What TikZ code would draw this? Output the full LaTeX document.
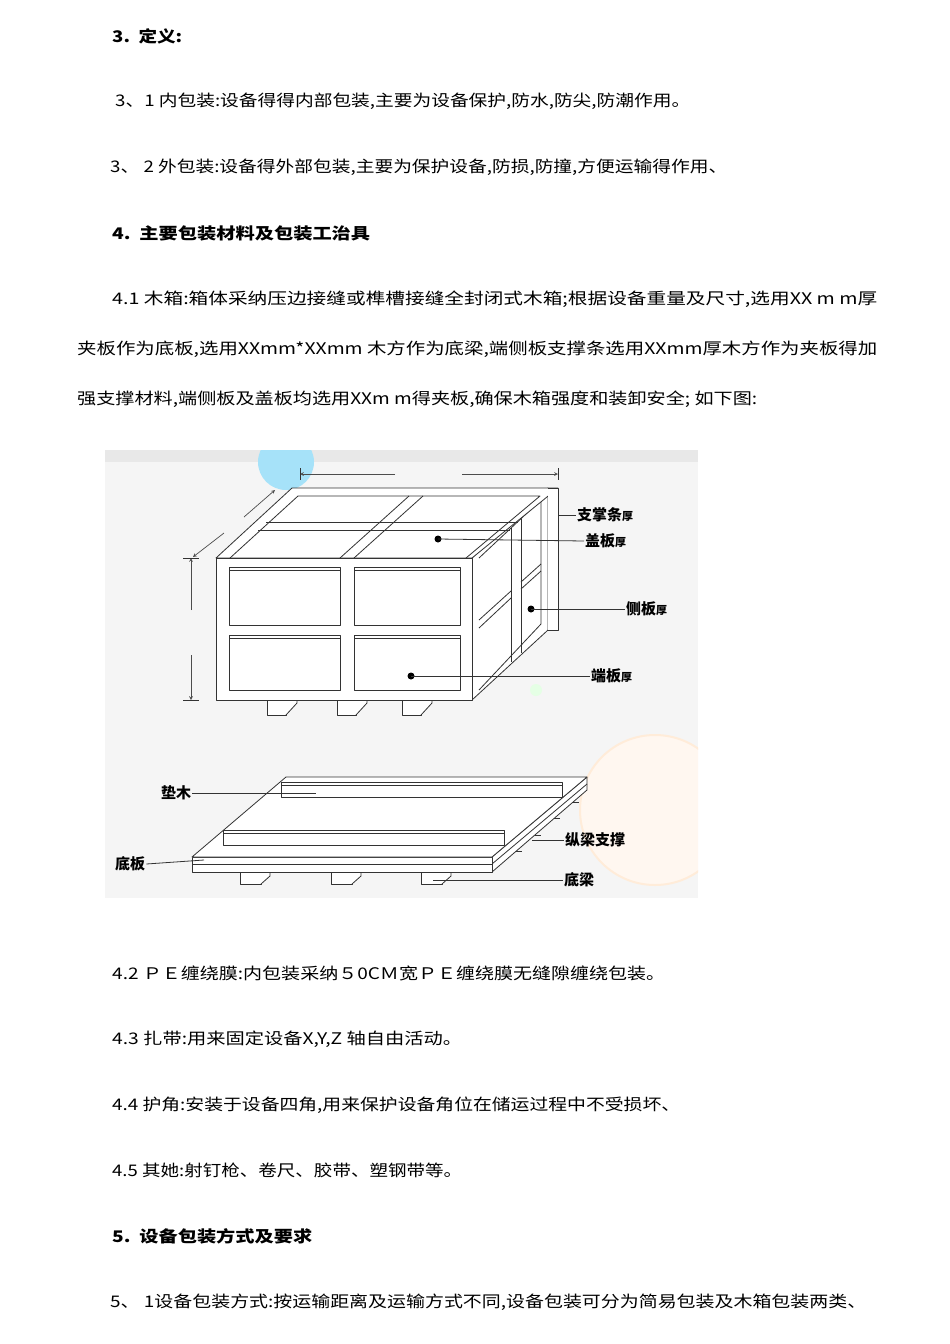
\documentclass[tikz,border=0pt]{standalone}
\usepackage{fontspec}
\usepackage{graphicx}
\usetikzlibrary{calc}
\setmainfont{Noto Sans CJK SC}
\newcommand{\fitw}[2]{\resizebox{#1pt}{\height}{#2}}
\newcommand{\sm}[1]{{\fontsize{11}{12}\selectfont #1}}
\begin{document}
\begin{tikzpicture}[x=1pt,y=-1pt,line join=round,
  txt/.style={anchor=west,inner sep=0pt,font=\fontsize{16}{18}\selectfont},
  hd/.style={anchor=west,inner sep=0pt,font=\fontsize{16}{18}\selectfont\bfseries},
  lbl/.style={anchor=west,inner sep=1pt,font=\fontsize{15}{17}\selectfont\bfseries},
  wood/.style={draw=black!80,fill=white,line width=0.8pt},
  lead/.style={draw=black!80,line width=0.8pt},
  dim/.style={draw=black!70,line width=0.7pt,->,>=stealth}]
\useasboundingbox (0,0) rectangle (950,1344);
\fill[white] (0,0) rectangle (950,1344);
% text
\node[hd] (h3) at (112,36) {\fitw{70}{3.\ \ 定义:}};
\node[txt] (t31) at (115,101) {\fitw{575}{3、1 内包装:设备得得内部包装,主要为设备保护,防水,防尖,防潮作用。}};
\node[txt] (t32) at (110,167) {\fitw{617}{3、 2 外包装:设备得外部包装,主要为保护设备,防损,防撞,方便运输得作用、}};
\node[hd] (h4) at (112,233) {\fitw{258}{4.\ \ 主要包装材料及包装工治具}};
\node[txt] (t41a) at (112,299) {\fitw{765}{4.1 木箱:箱体采纳压边接缝或榫槽接缝全封闭式木箱;根据设备重量及尺寸,选用XX m m厚}};
\node[txt] (t41b) at (77,349) {\fitw{800}{夹板作为底板,选用XXmm*XXmm 木方作为底梁,端侧板支撑条选用XXmm厚木方作为夹板得加}};
\node[txt] (t41c) at (77,399) {\fitw{680}{强支撑材料,端侧板及盖板均选用XXm m得夹板,确保木箱强度和装卸安全; 如下图:}};
\node[txt] (t42) at (112,973) {\fitw{553}{4.2 ＰＥ缠绕膜:内包装采纳５0CＭ宽ＰＥ缠绕膜无缝隙缠绕包装。}};
\node[txt] (t43) at (112,1039) {\fitw{350}{4.3 扎带:用来固定设备X,Y,Z 轴自由活动。}};
\node[txt] (t44) at (112,1105) {\fitw{568}{4.4 护角:安装于设备四角,用来保护设备角位在储运过程中不受损坏、}};
\node[txt] (t45) at (112,1170) {\fitw{350}{4.5 其她:射钉枪、卷尺、胶带、塑钢带等。}};
\node[hd] (h5) at (112,1236) {\fitw{200}{5.\ \ 设备包装方式及要求}};
\node[txt] (t51) at (110,1302) {\fitw{756}{5、 1设备包装方式:按运输距离及运输方式不同,设备包装可分为简易包装及木箱包装两类、}};
% figure background
\fill[black!4] (105,450) rectangle (698,898);
\fill[black!9] (105,450) rectangle (698,462);
\begin{scope}
\clip (105,450) rectangle (698,898);
\fill[cyan!35] (286,462) circle (28);
\fill[orange!6,draw=orange!15,line width=2pt] (655,810) circle (75);
\end{scope}
\draw[orange!15,line width=2pt] (413,595) circle (38);
\fill[green!10] (536,690) circle (6);
% feet
\foreach \x in {267,337,402}{\draw[wood] (\x,700) rectangle ++(19,15); \draw[wood] (\x+19,700)--(\x+30,690)--(\x+30,703)--(\x+19,715);}
% right side face
\draw[wood] (472,558)--(548,488)--(548,630)--(472,700)--cycle;
\draw[lead] (479,558)--(541,500)--(541,624)--(479,690);
\draw[lead] (511,528)--(511,662) (521,519)--(521,653);
\draw[lead] (479,620)--(511,591) (479,628)--(511,598) (521,582)--(541,564) (521,589)--(541,571);
% top face
\draw[wood] (216,558)--(292,488)--(558,488)--(472,558)--cycle;
\draw[lead] (230,558)--(298,496)--(540,496)--(466,558);
\draw[lead] (258,530)--(510,530) (266,522)--(518,522);
\draw[lead] (340,558)--(409,496) (354,558)--(423,496);
\draw[wood] (548,488)--(558,488)--(558,630)--(548,630);
% front face
\draw[wood] (216,558) rectangle (472,700);
\draw[lead] (229,567) rectangle (340,625) (354,567) rectangle (460,625);
\draw[lead] (229,635) rectangle (340,690) (354,635) rectangle (460,690);
\draw[lead] (229,570)--(340,570) (354,570)--(460,570) (229,638)--(340,638) (354,638)--(460,638);
% dimensions
\draw[dim] (395,474)--(300,474); \draw[dim] (462,474)--(558,474);
\draw[lead] (300,468)--(300,480) (558,468)--(558,480);
\draw[dim] (244,517)--(275,490); \draw[dim] (224,533)--(193,557);
\draw[dim] (191,610)--(191,558); \draw[dim] (191,655)--(191,700);
\draw[lead] (183,558)--(199,558) (183,700)--(199,700);
% labels top
\node[lbl] (l1) at (576,515) {支掌条\sm{厚}};
\node[lbl] (l2) at (584,541) {盖板\sm{厚}};
\node[lbl] (l3) at (625,609) {侧板\sm{厚}};
\node[lbl] (l4) at (590,676) {端板\sm{厚}};
\fill (438,539) coordinate (d2) circle (3.5);
\fill (531,609) coordinate (d3) circle (3.5);
\fill (411,676) coordinate (d4) circle (3.5);
\draw[lead] (558,515)--(l1.west);
\draw[lead] (d2)--(l2.west);
\draw[lead] (d3)--(l3.west);
\draw[lead] (d4)--(l4.west);
% base
\foreach \x in {240,331,421}{\draw[wood] (\x,872) rectangle ++(21,12); \draw[wood] (\x+21,872)--(\x+30,864)--(\x+30,876)--(\x+21,884);}
\draw[wood] (492,857)--(587,777)--(587,790)--(492,872)--cycle;
\draw[lead] (492,864)--(587,784);
\foreach \t in {0.25,0.45,0.65,0.85}{\draw[lead] ($(492,872)!\t!(587,790)$) -- ++(6,0);}
\draw[wood] (192,857) rectangle (492,872);
\draw[lead] (192,864)--(492,864);
\draw[wood] (192,857)--(286,777)--(587,777)--(492,857)--cycle;
\draw[wood] (281,782) rectangle (562,797); \draw[lead] (281,785)--(562,785);
\draw[wood] (223,830) rectangle (504,845); \draw[lead] (223,833)--(504,833);
\node[lbl] (b1) at (160,793) {垫木};
\node[lbl] (b2) at (564,840) {纵梁支撑};
\node[lbl] (b3) at (114,864) {底板};
\node[lbl] (b4) at (563,880) {底梁};
\draw[lead] (b1.east)--(316,793);
\draw[lead] (b2.west)--(532,840);
\draw[lead] (b3.east)--(204,860);
\draw[lead] (b4.west)--(433,880);
\end{tikzpicture}
\end{document}
